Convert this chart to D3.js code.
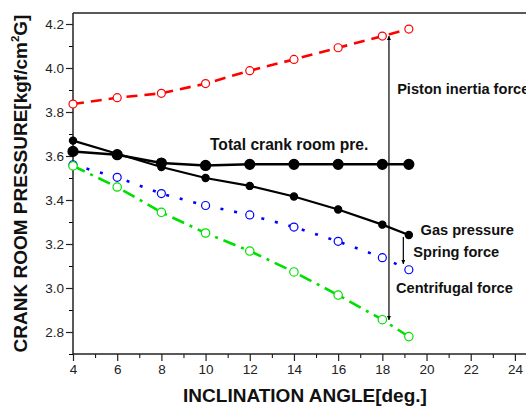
<!DOCTYPE html>
<html>
<head>
<meta charset="utf-8">
<script src="https://cdn.jsdelivr.net/npm/d3@7"></script>
<style>
  body { margin: 0; background: #fff; }
  svg { display: block; font-family: Arial, "Liberation Sans", sans-serif; }
</style>
</head>
<body>
<svg id="chart" width="526" height="407"></svg>
<script>
// inclination angles
const angles = [4, 6, 8, 10, 12, 14, 16, 18, 19.2];

const pistonInertia = [3.836, 3.865, 3.885, 3.929, 3.988, 4.039, 4.092, 4.145, 4.177];
const totalCrank    = [3.621, 3.606, 3.568, 3.557, 3.562, 3.562, 3.562, 3.562, 3.562];
const gasPressure   = [3.670, 3.610, 3.550, 3.500, 3.464, 3.416, 3.357, 3.288, 3.241];
const springForce   = [3.560, 3.503, 3.429, 3.375, 3.332, 3.277, 3.212, 3.138, 3.083];
const centrifugal   = [3.555, 3.459, 3.344, 3.250, 3.168, 3.073, 2.968, 2.856, 2.779];

const xTicks = [4, 6, 8, 10, 12, 14, 16, 18, 20, 22, 24];
const yTicks = [2.8, 3.0, 3.2, 3.4, 3.6, 3.8, 4.0, 4.2];

const notes = [
  {text: 'Piston inertia force', x: 18.67, y: 3.882, size: 14.6},
  {text: 'Total crank room pre.', x: 10.2, y: 3.627, size: 15.6},
  {text: 'Gas pressure', x: 19.73, y: 3.24, size: 14.6},
  {text: 'Spring force', x: 19.4, y: 3.139, size: 14.6},
  {text: 'Centrifugal force', x: 18.62, y: 2.976, size: 14.6}
];

const arrows = [
  {x: 18.3, y1: 4.146, y2: 2.855, both: true},
  {x: 18.95, y1: 3.232, y2: 3.109, both: false}
];

const svg = d3.select('#chart');
const mLeft = 73, mTop = 13, mBottom = 354, mRight = 537;

const x = d3.scaleLinear().domain([4, 25]).range([mLeft, mRight]);
const y = d3.scaleLinear().domain([2.7, 4.25]).range([mBottom, mTop]);

// minor ticks
svg.append('g').attr('transform', `translate(0,${mBottom})`)
  .call(d3.axisBottom(x).tickValues(d3.range(5, 25, 2)).tickSize(4).tickFormat(''))
  .call(g => g.select('.domain').remove());
svg.append('g').attr('transform', `translate(${mLeft},0)`)
  .call(d3.axisLeft(y).tickValues([2.7, 2.9, 3.1, 3.3, 3.5, 3.7, 3.9, 4.1]).tickSize(4).tickFormat(''))
  .call(g => g.select('.domain').remove());

const xAxis = svg.append('g').attr('transform', `translate(0,${mBottom})`)
  .call(d3.axisBottom(x).tickValues(xTicks).tickSize(7).tickPadding(3).tickFormat(d3.format('d')));
const yAxis = svg.append('g').attr('transform', `translate(${mLeft},0)`)
  .call(d3.axisLeft(y).tickValues(yTicks).tickSize(7).tickPadding(2).tickFormat(d3.format('.1f')));

[xAxis, yAxis].forEach(a => {
  a.selectAll('text').attr('font-size', 13.5).attr('fill', '#222').attr('font-family', 'Arial, "Liberation Sans", sans-serif');
  a.selectAll('line').attr('stroke', '#222').attr('stroke-width', 1.2);
  a.select('.domain').attr('stroke', '#222').attr('stroke-width', 1.5);
});
xAxis.select('.domain').attr('d', `M${mLeft},0H${mRight}`);
yAxis.select('.domain').attr('d', `M0,${mBottom}V${mTop}`);

// top frame
svg.append('line').attr('x1', mLeft).attr('x2', mRight).attr('y1', mTop).attr('y2', mTop)
  .attr('stroke', '#222').attr('stroke-width', 1.5);

// series
const series = [
  {vals: pistonInertia, color: '#ff0000', dash: '11,7', width: 2.6, r: 4, fill: 'white'},
  {vals: springForce, color: '#0000ff', dash: '3,11', width: 2.6, r: 4, fill: 'white'},
  {vals: centrifugal, color: '#00e000', dash: '13,6,3,6', width: 2.6, r: 4.2, fill: 'white'},
  {vals: gasPressure, color: '#000', dash: null, width: 2.2, r: 3.6, fill: '#000'},
  {vals: totalCrank, color: '#000', dash: null, width: 2.5, r: 5, fill: '#000'}
];

const line = d3.line().x(d => x(d[0])).y(d => y(d[1]));

series.forEach(s => {
  const pts = angles.map((a, i) => [a, s.vals[i]]);
  svg.append('path').datum(pts)
    .attr('d', line)
    .attr('fill', 'none')
    .attr('stroke', s.color)
    .attr('stroke-width', s.width)
    .attr('stroke-dasharray', s.dash);
  svg.append('g').selectAll('circle').data(pts).enter().append('circle')
    .attr('cx', d => x(d[0]))
    .attr('cy', d => y(d[1]))
    .attr('r', s.r)
    .attr('fill', s.fill)
    .attr('stroke', s.color)
    .attr('stroke-width', 1.2);
});

// arrows
svg.append('defs').append('marker')
  .attr('id', 'head').attr('viewBox', '0 0 10 10').attr('refX', 10).attr('refY', 5)
  .attr('markerWidth', 8).attr('markerHeight', 4).attr('markerUnits', 'userSpaceOnUse')
  .attr('orient', 'auto-start-reverse')
  .append('path').attr('d', 'M0,0L10,5L0,10Z').attr('fill', '#000');

arrows.forEach(a => {
  svg.append('line')
    .attr('x1', x(a.x)).attr('x2', x(a.x))
    .attr('y1', y(a.y1)).attr('y2', y(a.y2))
    .attr('stroke', '#000').attr('stroke-width', 1.2)
    .attr('marker-end', 'url(#head)')
    .attr('marker-start', a.both ? 'url(#head)' : null);
});

// annotations
svg.append('g').selectAll('text').data(notes).enter().append('text')
  .attr('x', d => x(d.x)).attr('y', d => y(d.y))
  .attr('font-size', d => d.size).attr('font-weight', 'bold').attr('fill', '#111')
  .text(d => d.text);

// axis titles
svg.append('text')
  .attr('x', (mLeft + mRight) / 2).attr('y', 402)
  .attr('text-anchor', 'middle')
  .attr('font-size', 19).attr('font-weight', 'bold').attr('fill', '#111')
  .text('INCLINATION ANGLE[deg.]');

const yt = svg.append('text')
  .attr('transform', `translate(27,${(mTop + mBottom) / 2}) rotate(-90)`)
  .attr('text-anchor', 'middle')
  .attr('font-size', 19).attr('font-weight', 'bold').attr('fill', '#111');
yt.append('tspan').text('CRANK ROOM PRESSURE[kgf/cm');
yt.append('tspan').attr('font-size', 11.5).attr('dy', -8).text('2');
yt.append('tspan').attr('dy', 8).text('G]');
</script>
</body>
</html>
